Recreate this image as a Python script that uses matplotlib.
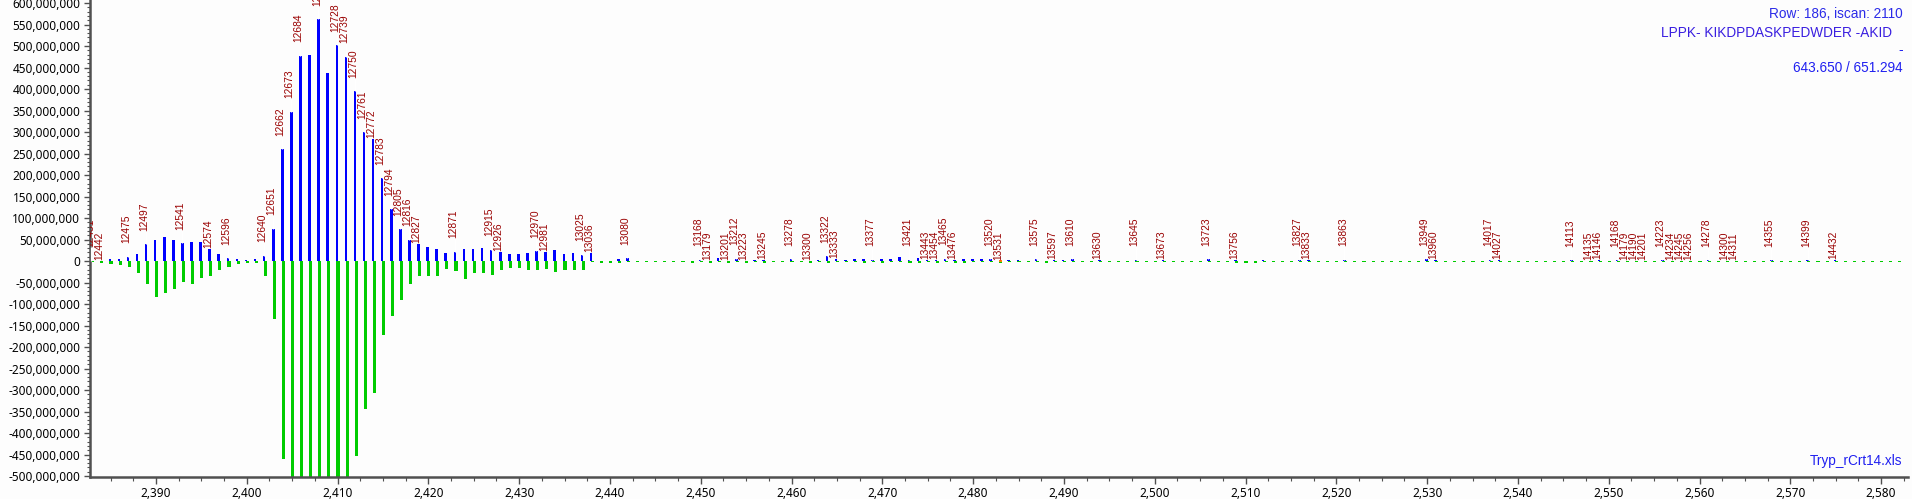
import matplotlib
matplotlib.use("Agg")
import matplotlib.pyplot as plt
import numpy as np
from matplotlib.ticker import FuncFormatter, MultipleLocator

# ---------------- data (values in millions) ----------------
x_start = 2383
blue_m = [
    1, 1, 4, 5, 10, 16, 39, 50, 56, 50,
    41, 44, 45, 27, 16, 6, 4, 2, 4, 12,
    75, 260, 347, 477, 479, 562, 438, 502, 475, 395,
    300, 284, 192, 120, 74, 49, 40, 33, 28, 19,
    21, 28, 28, 30, 26, 21, 16, 16, 19, 23,
    21, 26, 16, 19, 14, 19, 1, 1, 5, 7,
    1, 1, 1, 1, 1, 1, 1, 3, 1, 8,
    1, 5, 1, 2, 2, 1, 1, 4, 1, 1,
    3, 11, 4, 3, 5, 5, 3, 5, 5, 10,
    3, 6, 3, 3, 5, 3, 4, 4, 4, 4,
    1, 2, 2, 1, 4, 1, 2, 2, 4, 1,
    1, 2, 1, 1, 1, 3, 1, 1, 2, 1,
    1, 1, 1, 4, 1, 1, 2, 1, 1, 2,
    1, 1, 1, 3, 2, 1, 1, 1, 3, 1,
    1, 1, 1, 1, 1, 1, 1, 4, 3, 1,
    1, 1, 1, 1, 3, 2, 1, 1, 1, 1,
    1, 1, 1, 2, 1, 1, 2, 1, 2, 1,
    1, 1, 1, 2, 1, 1, 1, 1, 2, 1,
    1, 1, 1, 1, 1, 2, 1, 1, 1, 2,
    1, 1, 2, 1, 1, 1, 1, 1, 1, 1,
]
green_m = [
    2, 4, 7, 9, 13, 27, 54, 83, 74, 66,
    48, 53, 40, 34, 22, 13, 8, 4, 4, 35,
    134, 460, 600, 720, 760, 820, 700, 680, 560, 453,
    343, 306, 172, 127, 91, 53, 34, 34, 36, 19,
    23, 42, 27, 27, 32, 20, 16, 16, 20, 22,
    19, 25, 20, 20, 22, 3, 5, 5, 4, 3,
    2, 3, 2, 3, 2, 3, 4, 2, 4, 2,
    4, 3, 5, 3, 5, 2, 3, 2, 3, 4,
    3, 5, 3, 3, 3, 4, 3, 4, 3, 3,
    4, 4, 3, 4, 3, 4, 5, 3, 3, 3,
    4, 2, 2, 2, 2, 4, 3, 2, 2, 2,
    2, 3, 2, 2, 2, 2, 3, 2, 2, 2,
    2, 2, 2, 2, 2, 3, 4, 4, 4, 2,
    2, 2, 2, 2, 2, 2, 2, 2, 2, 2,
    2, 2, 2, 2, 2, 2, 3, 2, 2, 3,
    2, 2, 2, 2, 2, 2, 2, 2, 2, 2,
    2, 2, 2, 2, 2, 3, 2, 2, 3, 2,
    2, 2, 2, 2, 2, 2, 2, 2, 2, 3,
    2, 2, 3, 2, 2, 3, 2, 2, 2, 2,
    2, 2, 3, 2, 2, 2, 3, 2, 2, 2,
]
orange_x = [2483]
orange_m = [3]

label_text = [
    "12431", "12442", "12475", "12497", "12541", "12574", "12596", "12640", "12651", "12662",
    "12673", "12684", "12706", "12728", "12739", "12750", "12761", "12772", "12783", "12794",
    "12805", "12816", "12827", "12871", "12915", "12926", "12970", "12981", "13025", "13036",
    "13080", "13168", "13179", "13201", "13212", "13223", "13245", "13278", "13300", "13322",
    "13333", "13377", "13421", "13443", "13454", "13465", "13476", "13520", "13531", "13575",
    "13597", "13610", "13630", "13645", "13673", "13723", "13756", "13827", "13833", "13863",
    "13949", "13960", "14017", "14027", "14113", "14135", "14146", "14168", "14179", "14190",
    "14201", "14223", "14234", "14245", "14256", "14278", "14300", "14311", "14355", "14399",
    "14432",
]
label_x = [
    2383, 2384, 2387, 2389, 2393, 2396, 2398, 2402, 2403, 2404,
    2405, 2406, 2408, 2410, 2411, 2412, 2413, 2414, 2415, 2416,
    2417, 2418, 2419, 2423, 2427, 2428, 2432, 2433, 2437, 2438,
    2442, 2450, 2451, 2453, 2454, 2455, 2457, 2460, 2462, 2464,
    2465, 2469, 2473, 2475, 2476, 2477, 2478, 2482, 2483, 2487,
    2489, 2491, 2494, 2498, 2501, 2506, 2509, 2516, 2517, 2521,
    2530, 2531, 2537, 2538, 2546, 2548, 2549, 2551, 2552, 2553,
    2554, 2556, 2557, 2558, 2559, 2561, 2563, 2564, 2568, 2572,
    2575,
]

header_lines = ["Row: 186, iscan: 2110", "LPPK- KIKDPDASKPEDWDER -AKID", "-", "643.650 / 651.294"]
footer_text = "Tryp_rCrt14.xls"

# ---------------- figure ----------------
W, H, DPI = 1912, 499, 100
fig = plt.figure(figsize=(W / DPI, H / DPI), dpi=DPI, facecolor="#FDFDFD")
ax_left, ax_right, ax_bottom_px, ax_top_px = 90, 1908, 477, 0
ax = fig.add_axes([ax_left / W, (H - ax_bottom_px) / H, (ax_right - ax_left) / W,
                   (ax_bottom_px - ax_top_px) / H])
ax.set_facecolor("#FDFDFD")

xs = np.arange(x_start, x_start + len(blue_m))
blue = np.array(blue_m) * 1e6
green = np.array(green_m) * 1e6

ymin, ymax = -502.3e6, 607e6
xmin, xmax = 2382.74, 2582.96
ax.set_xlim(xmin, xmax)
ax.set_ylim(ymin, ymax)

ax.bar(xs - 0.08, blue, width=0.28, color="#0000FF", linewidth=0, zorder=3)
ax.bar(xs + 0.05, -green, width=0.34, color="#00CC00", linewidth=0, zorder=2)
ax.bar(np.array(orange_x) + 0.05, -np.array(orange_m) * 1e6, width=0.34,
       color="#FF8000", linewidth=0, zorder=4)
ax.bar(np.array(orange_x) + 0.05, np.array(orange_m) * 1e6, width=0.34,
       color="#FF8000", linewidth=0, zorder=4)

# pixel <-> data conversions
ax_h_px = ax_bottom_px - ax_top_px
y_per_px = (ymax - ymin) / ax_h_px
x_per_px = (xmax - xmin) / (ax_right - ax_left)

# ---------------- peak labels (stagger when crowded) ----------------
high_off = 13.5
last_high = None
for txt, lx in zip(label_text, label_x):
    v = blue[lx - x_start]
    top_px = max(v, 0) / y_per_px
    desired = top_px + high_off
    low = (last_high is not None and lx - last_high[0] <= 3
           and abs(desired - last_high[1]) < 10)
    if low:
        bottom = top_px + 1.0
    else:
        bottom = desired
        last_high = (lx, desired)
        ax.plot([lx - 0.1, lx - 0.1], [max(v, 0), bottom * y_per_px], color="white",
                lw=0.9, zorder=5, solid_capstyle="butt")
    ax.text(lx - 2.5 * x_per_px, bottom * y_per_px, txt, rotation=90, ha="center",
            va="bottom", fontsize=7.4, family="Liberation Sans", color="#990000",
            zorder=6, clip_on=True)

# ---------------- axes styling ----------------
fmt = FuncFormatter(lambda v, p: f"{v:,.0f}")
ax.yaxis.set_major_locator(MultipleLocator(50e6))
ax.yaxis.set_minor_locator(MultipleLocator(10e6))
ax.xaxis.set_major_locator(MultipleLocator(10))
ax.xaxis.set_minor_locator(MultipleLocator(2.5))
ax.yaxis.set_major_formatter(fmt)
ax.xaxis.set_major_formatter(fmt)
for s in ("top", "right"):
    ax.spines[s].set_visible(False)
for s in ("left", "bottom"):
    ax.spines[s].set_color("#505050")
    ax.spines[s].set_linewidth(1.8)
ax.tick_params(axis="y", which="major", length=4, width=1, color="#505050", pad=3,
               labelsize=8.5, labelcolor="black")
ax.tick_params(axis="y", which="minor", length=2, width=0.8, color="#505050")
ax.tick_params(axis="x", which="major", length=5, width=1, color="#505050", pad=2.5,
               labelsize=8.5, labelcolor="black")
ax.tick_params(axis="x", which="minor", length=3, width=0.8, color="#505050")
for t in ax.get_xticklabels() + ax.get_yticklabels():
    t.set_family("Noto Sans")

# ---------------- header / footer text ----------------
hdr_colors = ["#2B2BE8", "#3A1FE0", "#2020F0", "#2020F0"]
hdr_right = [1903, 1892, 1903, 1903]
hdr_y = [14, 33, 50, 68]
for line, c, xr, yy in zip(header_lines, hdr_colors, hdr_right, hdr_y):
    fig.text(xr / W, 1 - yy / H, line, ha="right", va="center", fontsize=9.8,
             family="Liberation Sans", color=c)
fig.text(1902 / W, 1 - 461 / H, footer_text, ha="right", va="center", fontsize=9.8,
         family="Liberation Sans", color="#2020F0")

fig.savefig("out.png", dpi=DPI, facecolor=fig.get_facecolor())
